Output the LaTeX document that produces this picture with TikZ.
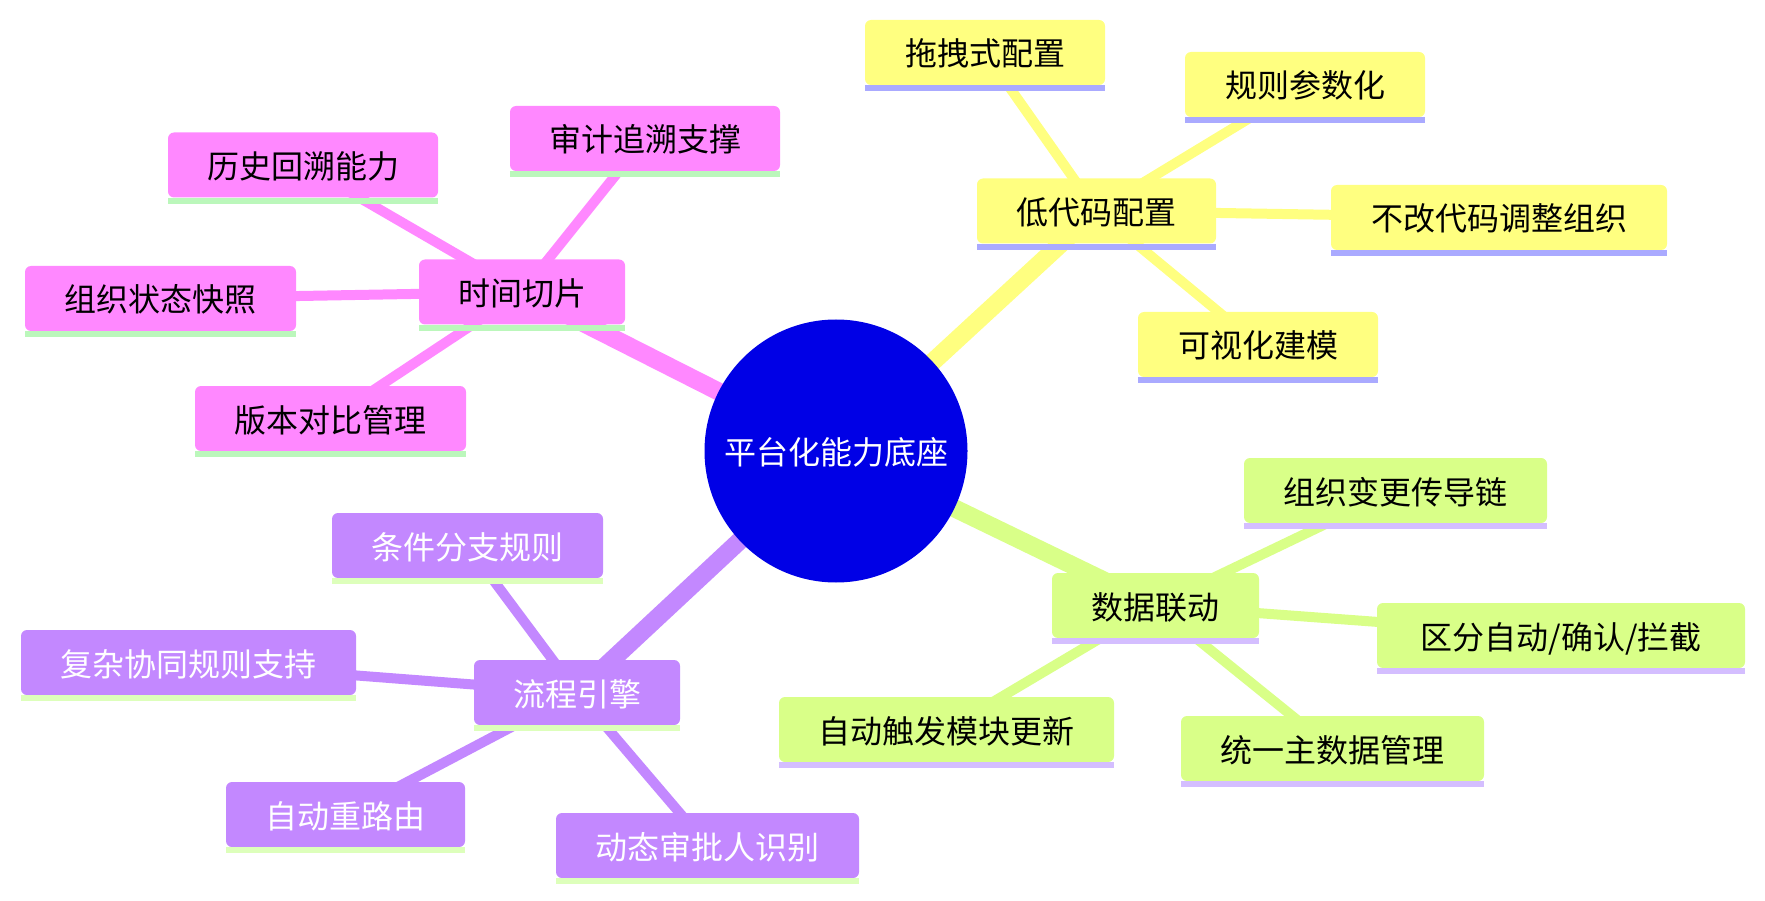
\documentclass[tikz,border=0pt]{standalone}
\usepackage{fontspec}
\setmainfont{Noto Sans CJK SC}
\usetikzlibrary{backgrounds}
\definecolor{pinkf}{HTML}{FF88FF}
\definecolor{pinku}{HTML}{BBF7BB}
\definecolor{yelf}{HTML}{FFFF80}
\definecolor{yelu}{HTML}{AAAAFF}
\definecolor{grnf}{HTML}{D9FF88}
\definecolor{grnu}{HTML}{D4BEFF}
\definecolor{purf}{HTML}{C388FF}
\definecolor{puru}{HTML}{DDFFBB}
\definecolor{ctrf}{HTML}{0000E6}
\begin{document}
\begin{tikzpicture}[x=1pt,y=-1pt,
  box/.style={rectangle, rounded corners=6pt, minimum height=65pt, inner sep=0pt,
    text height=28pt, text depth=1pt, font=\fontsize{32}{38}\selectfont},
  pinkbox/.style={box, fill=pinkf, text=black},
  yelbox/.style={box, fill=yelf, text=black},
  grnbox/.style={box, fill=grnf, text=black},
  purbox/.style={box, fill=purf, text=white},
  hubnode/.style={circle, fill=ctrf, minimum size=263pt, inner sep=0pt, text=white,
    text height=28pt, text depth=1pt, font=\fontsize{32}{38}\selectfont},
  mainline/.style={line width=18pt},
  leafline/.style={line width=10pt},
]
\useasboundingbox (0,0) rectangle (1765,901);

% centre
\node[hubnode] (ctr) at (836,451) {平台化能力底座};

% pink branch
\node[pinkbox, minimum width=206pt] (tp) at (522,292) {时间切片};
\node[pinkbox, minimum width=270pt] (h1) at (303,165) {历史回溯能力};
\node[pinkbox, minimum width=270pt] (h2) at (645,138.5) {审计追溯支撑};
\node[pinkbox, minimum width=271pt] (h3) at (160.5,298.5) {组织状态快照};
\node[pinkbox, minimum width=271pt] (h4) at (330.5,418.5) {版本对比管理};

% yellow branch
\node[yelbox, minimum width=239pt] (dc) at (1096.5,211) {低代码配置};
\node[yelbox, minimum width=240pt] (y1) at (985,52.5) {拖拽式配置};
\node[yelbox, minimum width=240pt] (y2) at (1305,84.5) {规则参数化};
\node[yelbox, minimum width=336pt] (y3) at (1499,217.5) {不改代码调整组织};
\node[yelbox, minimum width=240pt] (y4) at (1258,344.5) {可视化建模};

% green branch
\node[grnbox, minimum width=207pt] (sj) at (1155.5,605.5) {数据联动};
\node[grnbox, minimum width=303pt] (g1) at (1395.5,490.5) {组织变更传导链};
\node[grnbox, minimum width=368pt] (g2) at (1561,635.5) {区分自动/确认/拦截};
\node[grnbox, minimum width=335pt] (g3) at (946.5,729.5) {自动触发模块更新};
\node[grnbox, minimum width=303pt] (g4) at (1332.5,748.5) {统一主数据管理};

% purple branch
\node[purbox, minimum width=206pt] (lc) at (577,692.5) {流程引擎};
\node[purbox, minimum width=271pt] (p1) at (467.5,545.5) {条件分支规则};
\node[purbox, minimum width=335pt] (p2) at (188.5,662.5) {复杂协同规则支持};
\node[purbox, minimum width=239pt] (p3) at (345.5,814.5) {自动重路由};
\node[purbox, minimum width=303pt] (p4) at (707.5,845.5) {动态审批人识别};

% underlines
\foreach \n in {tp,h1,h2,h3,h4}
  \fill[pinku] (\n.south west) rectangle ([yshift=-6pt]\n.south east);
\foreach \n in {dc,y1,y2,y3,y4}
  \fill[yelu] (\n.south west) rectangle ([yshift=-6pt]\n.south east);
\foreach \n in {sj,g1,g2,g3,g4}
  \fill[grnu] (\n.south west) rectangle ([yshift=-6pt]\n.south east);
\foreach \n in {lc,p1,p2,p3,p4}
  \fill[puru] (\n.south west) rectangle ([yshift=-6pt]\n.south east);

% connectors
\begin{scope}[on background layer]
  \draw[mainline, pinkf] (ctr.center) -- (tp.center);
  \draw[mainline, yelf] (ctr.center) -- (dc.center);
  \draw[mainline, grnf] (ctr.center) -- (sj.center);
  \draw[mainline, purf] (ctr.center) -- (lc.center);
  \foreach \n in {h1,h2,h3,h4} \draw[leafline, pinkf] (tp.center) -- (\n.center);
  \foreach \n in {y1,y2,y3,y4} \draw[leafline, yelf] (dc.center) -- (\n.center);
  \foreach \n in {g1,g2,g3,g4} \draw[leafline, grnf] (sj.center) -- (\n.center);
  \foreach \n in {p1,p2,p3,p4} \draw[leafline, purf] (lc.center) -- (\n.center);
\end{scope}
\end{tikzpicture}
\end{document}
